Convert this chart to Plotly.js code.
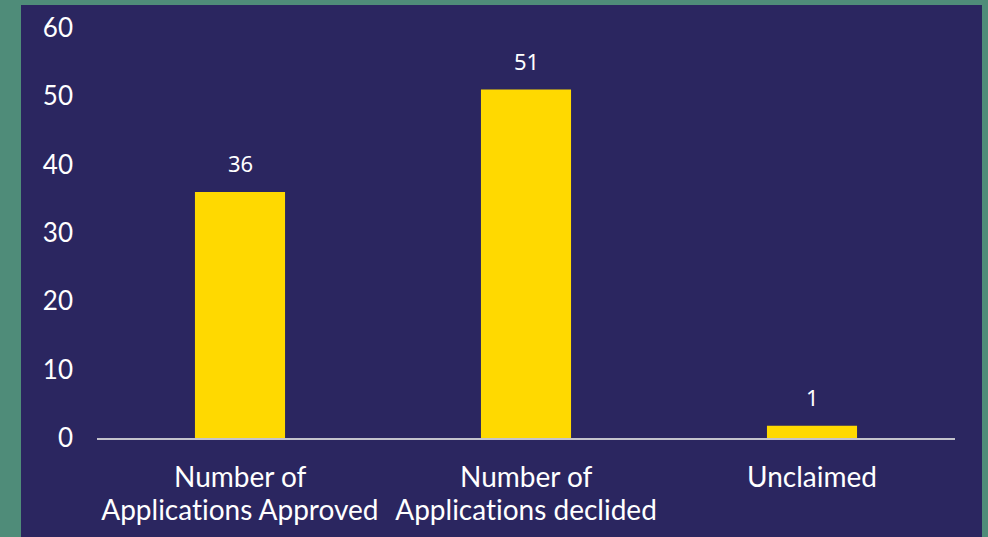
<!DOCTYPE html>
<html>
<head>
<meta charset="utf-8">
<script src="https://cdn.plot.ly/plotly-3.0.1.min.js"></script>
<style>
  html, body { margin: 0; padding: 0; width: 988px; height: 537px; background: #4F8C79; overflow: hidden; }
  #chart { position: absolute; left: 21px; top: 5px; width: 961px; height: 532px; }
  #chart text { font-variant-ligatures: none; font-feature-settings: "liga" 0; }
</style>
</head>
<body>
<div id="chart"></div>
<script>
const categories = ["Number of Applications Approved", "Number of Applications declided", "Unclaimed"];
const categoryLines = [["Number of", "Applications Approved"], ["Number of", "Applications declided"], ["Unclaimed"]];
const values = [36, 51, 1.8];
const valueLabels = ["36", "51", "1"];
const yTicks = [0, 10, 20, 30, 40, 50, 60];

const navy = "#2B2660";
const trace = {
  type: "bar",
  x: categories,
  y: values,
  marker: { color: "#FFD900" },
  hoverinfo: "none"
};

const annotations = categories.map((c, i) => ({
  x: c, y: values[i], xref: "x", yref: "y",
  text: valueLabels[i], showarrow: false,
  yanchor: "bottom", yshift: 12,
  font: { family: "Noto Sans, sans-serif", size: 22, color: "#FFFFFF" }
}));

categories.forEach((c, i) => {
  categoryLines[i].forEach((line, j) => {
    annotations.push({
      x: c, y: 0, xref: "x", yref: "y",
      text: line, showarrow: false,
      yanchor: "middle", yshift: -38 - 33 * j,
      font: { family: "Lato, sans-serif", size: 28, color: "#FFFFFF" }
    });
  });
});

const layout = {
  width: 961, height: 532,
  paper_bgcolor: navy, plot_bgcolor: navy,
  margin: { l: 76, r: 27, t: 23, b: 99 },
  bargap: 0.685,
  showlegend: false,
  xaxis: {
    type: "category",
    showline: true, linecolor: "#C4C3CC", linewidth: 2,
    showgrid: false, zeroline: false, ticks: "",
    showticklabels: false
  },
  yaxis: {
    range: [0, 60],
    tickvals: yTicks,
    showgrid: false, zeroline: false, showline: false, ticks: "",
    tickfont: { family: "Lato, sans-serif", size: 26, color: "#FFFFFF" },
    ticklabelstandoff: 23
  },
  annotations: annotations
};

Plotly.newPlot("chart", [trace], layout, { displayModeBar: false, staticPlot: true });
</script>
</body>
</html>
